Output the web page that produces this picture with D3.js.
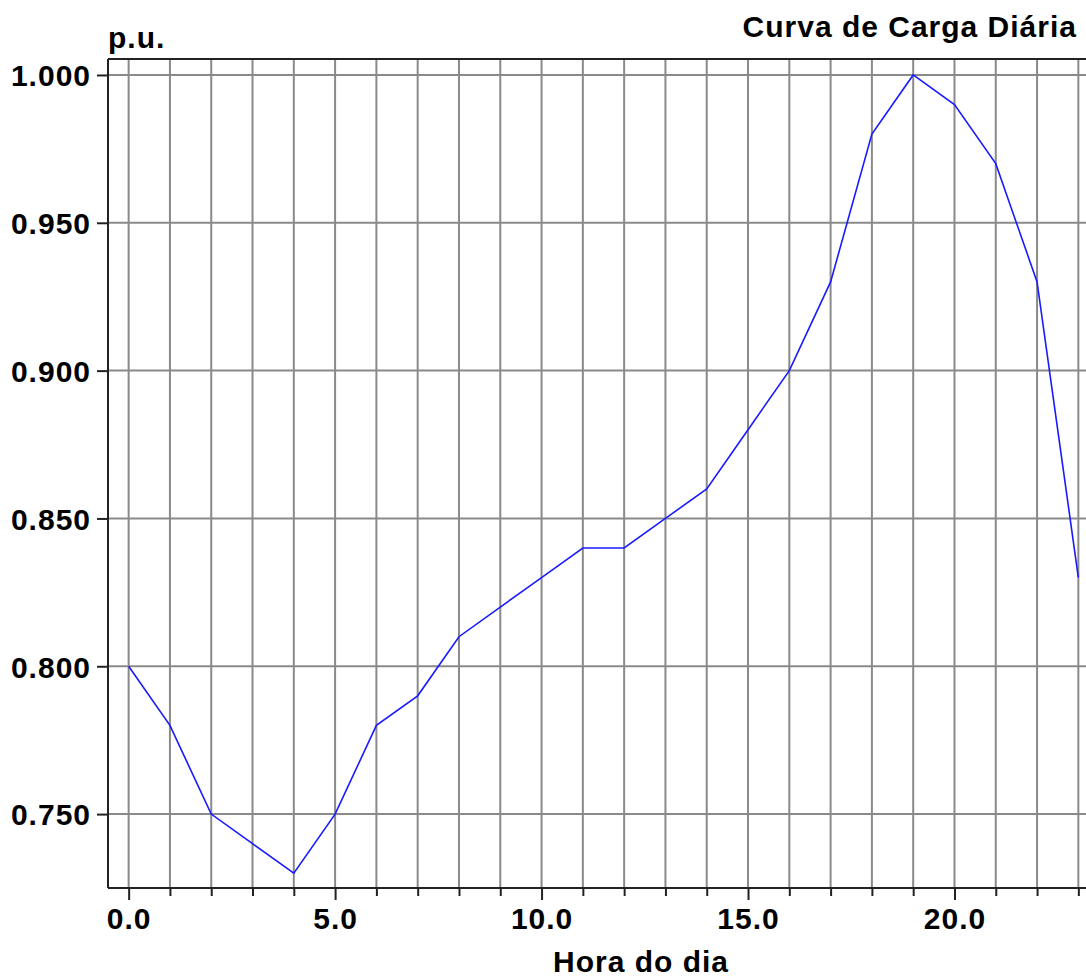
<!DOCTYPE html>
<html>
<head>
<meta charset="utf-8">
<script src="https://cdn.jsdelivr.net/npm/d3@7"></script>
<style>
  html, body { margin: 0; padding: 0; background: #fff; }
  svg { display: block; }
  text { font-family: "Liberation Sans", Arial, sans-serif; font-weight: bold; fill: #000; }
</style>
</head>
<body>
<svg id="chart" width="1086" height="978"></svg>
<script>
const hours = [0,1,2,3,4,5,6,7,8,9,10,11,12,13,14,15,16,17,18,19,20,21,22,23];
const load = [0.80,0.78,0.75,0.74,0.73,0.75,0.78,0.79,0.81,0.82,0.83,0.84,0.84,0.85,0.86,0.88,0.90,0.93,0.98,1.00,0.99,0.97,0.93,0.83];
const yTicks = [0.75,0.80,0.85,0.90,0.95,1.00];
const xMajorTicks = [0,5,10,15,20];
const title = "Curva de Carga Diária";
const yTitle = "p.u.";
const xTitle = "Hora do dia";

const svg = d3.select("#chart");
const mLeft = 108, mRight = 1099, mTop = 59, mBottom = 888;
const x = d3.scaleLinear().domain([-0.5, 23.5]).range([mLeft, mRight]);
const y = d3.scaleLinear().domain([0.725, 1.0054]).range([mBottom, mTop]);
const FS = 30, LS = "1px";

// vertical grid
svg.append("g").selectAll("line").data(hours).join("line")
  .attr("x1", d => x(d)).attr("x2", d => x(d))
  .attr("y1", mTop).attr("y2", mBottom)
  .attr("stroke", "#8a8a8a").attr("stroke-width", 2);
// horizontal grid
svg.append("g").selectAll("line").data(yTicks).join("line")
  .attr("x1", mLeft).attr("x2", 1086)
  .attr("y1", d => y(d)).attr("y2", d => y(d))
  .attr("stroke", "#8a8a8a").attr("stroke-width", 2);

// top frame line
svg.append("line").attr("x1", mLeft).attr("x2", 1086).attr("y1", mTop).attr("y2", mTop)
  .attr("stroke", "#222").attr("stroke-width", 2);

// y axis
const yAxis = d3.axisLeft(y).tickValues(yTicks).tickFormat(d3.format(".3f")).tickSize(11).tickPadding(6);
const gy = svg.append("g").attr("transform", `translate(${mLeft},0)`).call(yAxis);
gy.select(".domain").attr("stroke", "#222").attr("stroke-width", 2).attr("d", `M0,${mTop}V${mBottom}`);
gy.selectAll(".tick line").attr("stroke", "#222").attr("stroke-width", 2);
gy.selectAll(".tick text").attr("font-size", FS).attr("font-family", "Liberation Sans, Arial, sans-serif")
  .attr("font-weight", "bold").attr("fill", "#000").attr("dy", "0.36em").style("letter-spacing", LS);

// x axis (minor + major ticks)
const xMinor = d3.axisBottom(x).tickValues(hours.filter(h => !xMajorTicks.includes(h))).tickSize(8).tickFormat("");
const gxm = svg.append("g").attr("transform", `translate(0,${mBottom})`).call(xMinor);
gxm.select(".domain").remove();
gxm.selectAll(".tick line").attr("stroke", "#222").attr("stroke-width", 2);

const xAxis = d3.axisBottom(x).tickValues(xMajorTicks).tickFormat(d3.format(".1f")).tickSize(12).tickPadding(8);
const gx = svg.append("g").attr("transform", `translate(0,${mBottom})`).call(xAxis);
gx.select(".domain").attr("stroke", "#222").attr("stroke-width", 2).attr("d", `M${mLeft},0H1086`);
gx.selectAll(".tick line").attr("stroke", "#222").attr("stroke-width", 2);
gx.selectAll(".tick text").attr("font-size", FS).attr("font-family", "Liberation Sans, Arial, sans-serif")
  .attr("font-weight", "bold").attr("fill", "#000").style("letter-spacing", LS);

// line
const line = d3.line().x((d, i) => x(hours[i])).y(d => y(d));
svg.append("path").datum(load).attr("d", line)
  .attr("fill", "none").attr("stroke", "#1a1aff").attr("stroke-width", 1.6);

// texts
svg.append("text").attr("x", 1077).attr("y", 37).attr("text-anchor", "end").attr("font-size", FS).style("letter-spacing", LS).text(title);
svg.append("text").attr("x", 108).attr("y", 48).attr("font-size", FS).style("letter-spacing", LS).text(yTitle);
svg.append("text").attr("x", 641).attr("y", 972).attr("text-anchor", "middle").attr("font-size", FS).style("letter-spacing", LS).text(xTitle);
</script>
</body>
</html>
